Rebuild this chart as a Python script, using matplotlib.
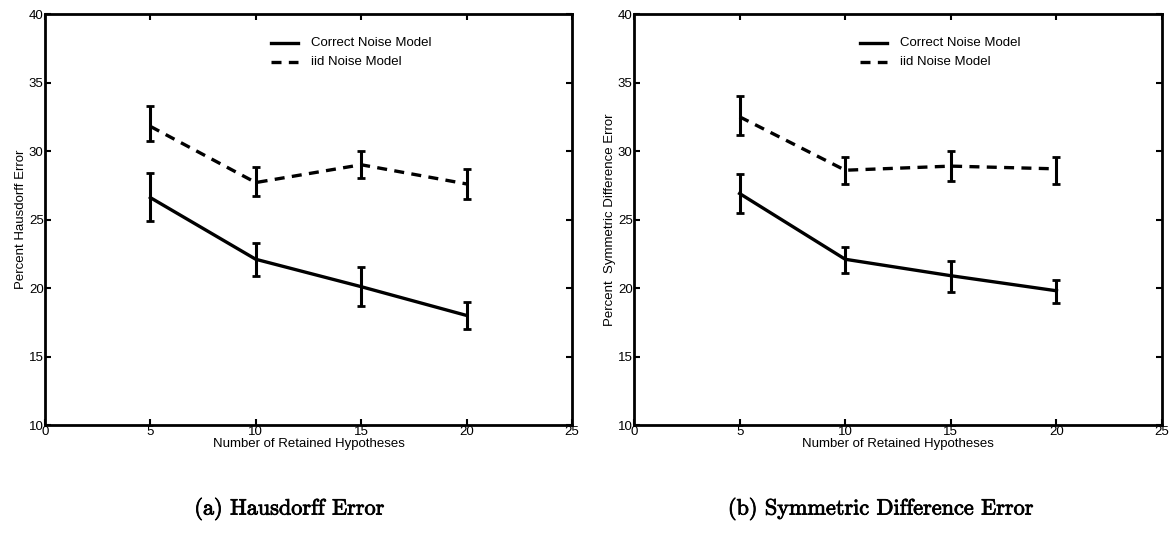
import matplotlib
matplotlib.use("Agg")
import matplotlib.pyplot as plt
import matplotlib.patheffects as pe

x_vals = [5, 10, 15, 20]

# Panel (a) Hausdorff
haus_correct = [26.6, 22.1, 20.1, 18.0]
haus_correct_lo = [24.9, 20.9, 18.7, 17.0]
haus_correct_hi = [28.4, 23.3, 21.5, 19.0]
haus_iid = [31.8, 27.7, 29.0, 27.6]
haus_iid_lo = [30.7, 26.7, 28.0, 26.5]
haus_iid_hi = [33.3, 28.8, 30.0, 28.7]

# Panel (b) Symmetric difference
sym_correct = [26.9, 22.1, 20.9, 19.8]
sym_correct_lo = [25.5, 21.1, 19.7, 18.9]
sym_correct_hi = [28.3, 23.0, 22.0, 20.6]
sym_iid = [32.5, 28.6, 28.9, 28.7]
sym_iid_lo = [31.2, 27.6, 27.8, 27.6]
sym_iid_hi = [34.0, 29.6, 30.0, 29.6]

legend_labels = ["Correct Noise Model", "iid Noise Model"]
xlabel = "Number of Retained Hypotheses"
ylabels = ["Percent Hausdorff Error", "Percent  Symmetric Difference Error"]
captions = ["(a) Hausdorff Error", "(b) Symmetric Difference Error"]
xticks = [0, 5, 10, 15, 20, 25]
yticks = [10, 15, 20, 25, 30, 35, 40]

plt.rcParams['font.family'] = ['Liberation Sans', 'DejaVu Sans']

fig = plt.figure(figsize=(11.71, 5.33), dpi=100)
axes_rects = [[0.0384, 0.2026, 0.450, 0.771], [0.5414, 0.2026, 0.451, 0.771]]
panels = [
    (haus_correct, haus_correct_lo, haus_correct_hi, haus_iid, haus_iid_lo, haus_iid_hi),
    (sym_correct, sym_correct_lo, sym_correct_hi, sym_iid, sym_iid_lo, sym_iid_hi),
]

fs = 9.5
for i, (rect, data) in enumerate(zip(axes_rects, panels)):
    ax = fig.add_axes(rect)
    c, clo, chi, d, dlo, dhi = data
    cerr = [[v - l for v, l in zip(c, clo)], [h - v for v, h in zip(c, chi)]]
    derr = [[v - l for v, l in zip(d, dlo)], [h - v for v, h in zip(d, dhi)]]
    ax.errorbar(x_vals, c, yerr=cerr, color='black', lw=2.4, capsize=3,
                capthick=2, elinewidth=2.2, ls='-')
    ax.errorbar(x_vals, d, yerr=derr, color='black', lw=2.4, capsize=3,
                capthick=2, elinewidth=2.2, ls=(0, (3, 2.2)))
    ax.set_xlim(0, 25)
    ax.set_ylim(10, 40)
    ax.set_xticks(xticks)
    ax.set_yticks(yticks)
    ax.tick_params(direction='in', top=True, right=True, length=4, width=1.5,
                   labelsize=fs, pad=1)
    for s in ax.spines.values():
        s.set_linewidth(2)
    ax.set_xlabel(xlabel, fontsize=fs, labelpad=0)
    ax.set_ylabel(ylabels[i], fontsize=fs, labelpad=1)
    # legend
    ax.plot([10.7, 12.0], [37.9, 37.9], color='black', lw=2.4, ls='-')
    ax.plot([10.7, 12.0], [36.5, 36.5], color='black', lw=2.4, ls=(0, (3, 2.2)))
    ax.text(12.6, 37.9, legend_labels[0], fontsize=fs, va='center', ha='left')
    ax.text(12.6, 36.5, legend_labels[1], fontsize=fs, va='center', ha='left')

for xpos, cap in zip([0.247, 0.752], captions):
    fig.text(xpos, 0.045, cap, fontsize=16, ha='center', va='center',
             family=['cmr10', 'DejaVu Serif'],
             path_effects=[pe.withStroke(linewidth=0.6, foreground='black')])

fig.savefig("out.png", dpi=100)
